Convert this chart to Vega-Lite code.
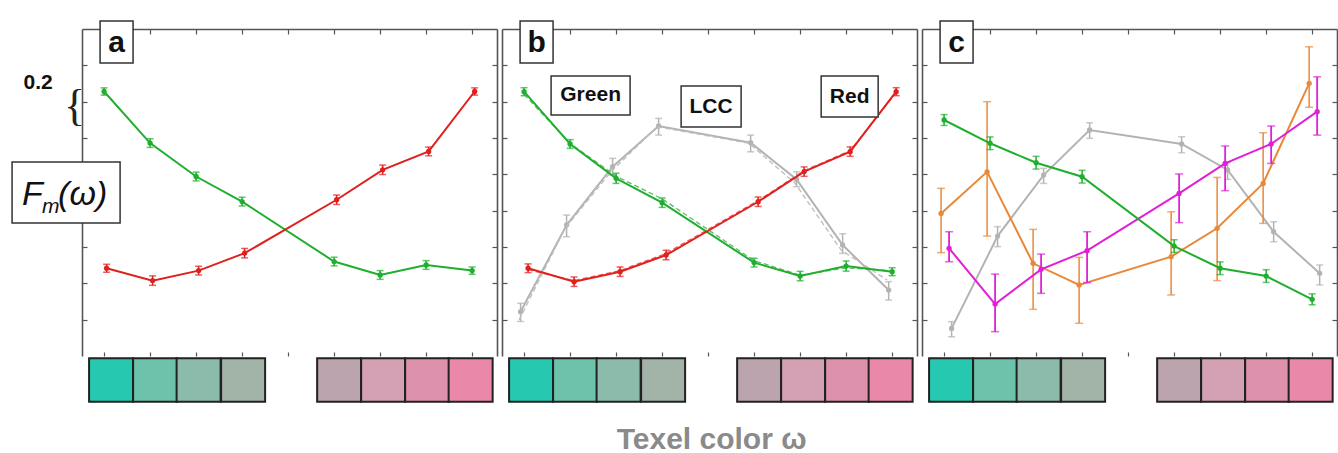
{
"$schema":"https://vega.github.io/schema/vega-lite/v6.json",
"padding":{"left":11,"top":20,"right":0,"bottom":0},
"bounds":"flush",
"spacing":5,
"background":"white",
"config":{"view":{"stroke":null},"font":"Liberation Sans","scale":{"continuousPadding":0}},
"datasets":{
"pts":[
{"p":"a","s":"green","x":0,"v":1.456,"lo":1.436,"hi":1.476},{"p":"a","s":"green","x":1,"v":1.172,"lo":1.148,"hi":1.196},{"p":"a","s":"green","x":2,"v":0.988,"lo":0.964,"hi":1.012},{"p":"a","s":"green","x":3,"v":0.85,"lo":0.826,"hi":0.874},{"p":"a","s":"green","x":5,"v":0.52,"lo":0.496,"hi":0.544},{"p":"a","s":"green","x":6,"v":0.446,"lo":0.422,"hi":0.47},{"p":"a","s":"green","x":7,"v":0.501,"lo":0.477,"hi":0.525},{"p":"a","s":"green","x":8,"v":0.47,"lo":0.45,"hi":0.49},
{"p":"a","s":"red","x":0,"v":0.483,"lo":0.461,"hi":0.505},{"p":"a","s":"red","x":1,"v":0.415,"lo":0.389,"hi":0.441},{"p":"a","s":"red","x":2,"v":0.47,"lo":0.446,"hi":0.494},{"p":"a","s":"red","x":3,"v":0.566,"lo":0.54,"hi":0.592},{"p":"a","s":"red","x":5,"v":0.86,"lo":0.834,"hi":0.886},{"p":"a","s":"red","x":6,"v":1.025,"lo":0.999,"hi":1.051},{"p":"a","s":"red","x":7,"v":1.126,"lo":1.102,"hi":1.15},{"p":"a","s":"red","x":8,"v":1.456,"lo":1.436,"hi":1.476},
{"p":"b","s":"green","x":0,"v":1.455,"lo":1.433,"hi":1.477},{"p":"b","s":"green","x":1,"v":1.167,"lo":1.143,"hi":1.191},{"p":"b","s":"green","x":2,"v":0.978,"lo":0.95,"hi":1.006},{"p":"b","s":"green","x":3,"v":0.844,"lo":0.818,"hi":0.87},{"p":"b","s":"green","x":5,"v":0.514,"lo":0.49,"hi":0.538},{"p":"b","s":"green","x":6,"v":0.44,"lo":0.414,"hi":0.466},{"p":"b","s":"green","x":7,"v":0.495,"lo":0.467,"hi":0.523},{"p":"b","s":"green","x":8,"v":0.464,"lo":0.442,"hi":0.486},
{"p":"b","s":"red","x":0,"v":0.483,"lo":0.459,"hi":0.507},{"p":"b","s":"red","x":1,"v":0.409,"lo":0.383,"hi":0.435},{"p":"b","s":"red","x":2,"v":0.464,"lo":0.438,"hi":0.49},{"p":"b","s":"red","x":3,"v":0.556,"lo":0.53,"hi":0.582},{"p":"b","s":"red","x":5,"v":0.849,"lo":0.823,"hi":0.875},{"p":"b","s":"red","x":6,"v":1.015,"lo":0.989,"hi":1.041},{"p":"b","s":"red","x":7,"v":1.125,"lo":1.099,"hi":1.151},{"p":"b","s":"red","x":8,"v":1.455,"lo":1.433,"hi":1.477},
{"p":"b","s":"gray","x":0,"v":0.244,"lo":0.19,"hi":0.29},{"p":"b","s":"gray","x":1,"v":0.721,"lo":0.657,"hi":0.776},{"p":"b","s":"gray","x":2,"v":1.042,"lo":0.996,"hi":1.088},{"p":"b","s":"gray","x":3,"v":1.266,"lo":1.216,"hi":1.308},{"p":"b","s":"gray","x":5,"v":1.174,"lo":1.124,"hi":1.216},{"p":"b","s":"gray","x":6,"v":0.972,"lo":0.932,"hi":1.014},{"p":"b","s":"gray","x":7,"v":0.611,"lo":0.565,"hi":0.673},{"p":"b","s":"gray","x":8,"v":0.363,"lo":0.308,"hi":0.409},
{"p":"b","s":"grayfit","x":0,"v":0.198},{"p":"b","s":"grayfit","x":1,"v":0.703},{"p":"b","s":"grayfit","x":2,"v":1.015},{"p":"b","s":"grayfit","x":3,"v":1.262},{"p":"b","s":"grayfit","x":5,"v":1.171},{"p":"b","s":"grayfit","x":6,"v":0.95},{"p":"b","s":"grayfit","x":7,"v":0.583},{"p":"b","s":"grayfit","x":8,"v":0.418},
{"p":"b","s":"greenfit","x":0,"v":1.44},{"p":"b","s":"greenfit","x":1,"v":1.17},{"p":"b","s":"greenfit","x":2,"v":0.99},{"p":"b","s":"greenfit","x":3,"v":0.865},{"p":"b","s":"greenfit","x":5,"v":0.525},{"p":"b","s":"greenfit","x":6,"v":0.445},{"p":"b","s":"greenfit","x":7,"v":0.485},{"p":"b","s":"greenfit","x":8,"v":0.47},
{"p":"b","s":"redfit","x":0,"v":0.475},{"p":"b","s":"redfit","x":1,"v":0.415},{"p":"b","s":"redfit","x":2,"v":0.47},{"p":"b","s":"redfit","x":3,"v":0.565},{"p":"b","s":"redfit","x":5,"v":0.855},{"p":"b","s":"redfit","x":6,"v":1.02},{"p":"b","s":"redfit","x":7,"v":1.13},{"p":"b","s":"redfit","x":8,"v":1.45},
{"p":"c","s":"green","x":0,"v":1.299,"lo":1.269,"hi":1.329},{"p":"c","s":"green","x":1,"v":1.171,"lo":1.136,"hi":1.206},{"p":"c","s":"green","x":2,"v":1.064,"lo":1.029,"hi":1.099},{"p":"c","s":"green","x":3,"v":0.987,"lo":0.952,"hi":1.022},{"p":"c","s":"green","x":5,"v":0.605,"lo":0.57,"hi":0.64},{"p":"c","s":"green","x":6,"v":0.483,"lo":0.448,"hi":0.518},{"p":"c","s":"green","x":7,"v":0.44,"lo":0.405,"hi":0.475},{"p":"c","s":"green","x":8,"v":0.312,"lo":0.282,"hi":0.342},
{"p":"c","s":"gray","x":0,"v":0.152,"lo":0.106,"hi":0.189},{"p":"c","s":"gray","x":1,"v":0.66,"lo":0.602,"hi":0.712},{"p":"c","s":"gray","x":2,"v":0.996,"lo":0.95,"hi":1.033},{"p":"c","s":"gray","x":3,"v":1.244,"lo":1.198,"hi":1.284},{"p":"c","s":"gray","x":5,"v":1.167,"lo":1.119,"hi":1.207},{"p":"c","s":"gray","x":6,"v":1.024,"lo":0.972,"hi":1.064},{"p":"c","s":"gray","x":7,"v":0.684,"lo":0.629,"hi":0.739},{"p":"c","s":"gray","x":8,"v":0.455,"lo":0.391,"hi":0.501},
{"p":"c","s":"orange","x":0,"v":0.785,"lo":0.569,"hi":0.923},{"p":"c","s":"orange","x":1,"v":1.014,"lo":0.66,"hi":1.4},{"p":"c","s":"orange","x":2,"v":0.51,"lo":0.257,"hi":0.697},{"p":"c","s":"orange","x":3,"v":0.391,"lo":0.18,"hi":0.543},{"p":"c","s":"orange","x":5,"v":0.547,"lo":0.336,"hi":0.794},{"p":"c","s":"orange","x":6,"v":0.703,"lo":0.415,"hi":0.983},{"p":"c","s":"orange","x":7,"v":0.95,"lo":0.73,"hi":1.229},{"p":"c","s":"orange","x":8,"v":1.501,"lo":1.369,"hi":1.702},
{"p":"c","s":"magenta","x":0,"v":0.593,"lo":0.519,"hi":0.684},{"p":"c","s":"magenta","x":1,"v":0.286,"lo":0.134,"hi":0.451},{"p":"c","s":"magenta","x":2,"v":0.477,"lo":0.345,"hi":0.561},{"p":"c","s":"magenta","x":3,"v":0.58,"lo":0.404,"hi":0.684},{"p":"c","s":"magenta","x":5,"v":0.895,"lo":0.734,"hi":1.002},{"p":"c","s":"magenta","x":6,"v":1.06,"lo":0.91,"hi":1.156},{"p":"c","s":"magenta","x":7,"v":1.167,"lo":1.06,"hi":1.266},{"p":"c","s":"magenta","x":8,"v":1.345,"lo":1.216,"hi":1.537}
],
"sw":[{"sx":0.152,"c":"#27c8b0"},{"sx":1.109,"c":"#6cc2ab"},{"sx":2.054,"c":"#8bbcab"},{"sx":3.022,"c":"#a2b3a8"},{"sx":5.109,"c":"#bca4ae"},{"sx":6.065,"c":"#d4a0b3"},{"sx":7.022,"c":"#dd91ad"},{"sx":7.967,"c":"#e988a9"}],
"notes":[
{"p":"a","k":"letter","t":"a","x":0.272,"y":1.725},{"p":"b","k":"letter","t":"b","x":0.272,"y":1.725},{"p":"c","k":"letter","t":"c","x":0.272,"y":1.725},
{"p":"b","k":"lbl","t":"Green","x":1.446,"y":1.434},{"p":"b","k":"lbl","t":"LCC","x":4.065,"y":1.373},{"p":"b","k":"lbl","t":"Red","x":7.076,"y":1.428},
{"p":"a","k":"F","t":"F","x":-1.783,"y":0.831},{"p":"a","k":"sub","t":"m","x":-1.348,"y":0.787},{"p":"a","k":"par","t":"(ω)","x":-1.0,"y":0.831},
{"p":"a","k":"scale","t":"0.2","x":-1.435,"y":1.502},{"p":"a","k":"brace","t":"{","x":-0.641,"y":1.37},
{"p":"b","k":"xt","t":"Texel color ω","x":4.076,"y":-0.512}
],
"boxes":[
{"p":"a","x0":-0.087,"x1":0.63,"y0":1.613,"y1":1.844},{"p":"b","x0":-0.087,"x1":0.63,"y0":1.613,"y1":1.844},{"p":"c","x0":-0.087,"x1":0.63,"y0":1.613,"y1":1.844},
{"p":"a","x0":-2.0,"x1":0.348,"y0":0.732,"y1":1.068},
{"p":"b","x0":0.587,"x1":2.304,"y0":1.326,"y1":1.541},{"p":"b","x0":3.413,"x1":4.717,"y0":1.26,"y1":1.486},{"p":"b","x0":6.457,"x1":7.696,"y0":1.315,"y1":1.541}
]
},
"hconcat":[
{"width":415,"height":327,"data":{"name":"pts"},
"resolve":{"axis":{"x":"independent","y":"independent"}},
"layer":[
{"data":{"values":[{"x":0,"v":0}]},"mark":{"type":"point","opacity":0},"encoding":{"x":{"field":"x","type":"quantitative","scale":{"domain":[-0.48,8.54],"nice":false,"zero":false,"padding":0},"axis":{"orient":"bottom","values":[0,1,2,3,4,5,6,7,8],"domain":false,"labels":false,"grid":false,"title":null,"tickSize":-4,"tickColor":"#555","tickWidth":1.2}},"y":{"field":"v","type":"quantitative","scale":{"domain":[0,1.8],"nice":false,"zero":false,"padding":0},"axis":{"orient":"left","values":[0.2,0.4,0.6,0.8,1.0,1.2,1.4,1.6],"domain":true,"domainColor":"#555","domainWidth":1.6,"labels":false,"grid":false,"title":null,"tickSize":-5,"tickColor":"#555","tickWidth":1.2}}}},
{"data":{"values":[{"x":0,"v":0}]},"mark":{"type":"point","opacity":0},"encoding":{"x":{"field":"x","type":"quantitative","scale":{"domain":[-0.48,8.54],"nice":false,"zero":false,"padding":0},"axis":{"orient":"top","values":[0,1,2,3,4,5,6,7,8],"domain":true,"domainColor":"#555","domainWidth":1.6,"labels":false,"grid":false,"title":null,"tickSize":-5,"tickColor":"#555","tickWidth":1.2}},"y":{"field":"v","type":"quantitative","scale":{"domain":[0,1.8],"nice":false,"zero":false,"padding":0},"axis":{"orient":"right","values":[0.2,0.4,0.6,0.8,1.0,1.2,1.4,1.6],"domain":true,"domainColor":"#555","domainWidth":1.6,"labels":false,"grid":false,"title":null,"tickSize":-5,"tickColor":"#555","tickWidth":1.2}}}},
{"data":{"name":"sw"},"mark":{"type":"bar","orient":"vertical","size":44,"stroke":"#222","strokeWidth":2},"encoding":{"x":{"field":"sx","type":"quantitative","scale":{"domain":[-0.48,8.54],"nice":false,"zero":false,"padding":0},"axis":null},"y":{"datum":-0.012,"type":"quantitative","scale":{"domain":[0,1.8],"nice":false,"zero":false,"padding":0},"axis":null},"y2":{"datum":-0.252},"fill":{"field":"c","type":"nominal","scale":null}}},
{"transform":[{"filter":"datum.p==='a'&&datum.s==='green'"}],"layer":[
{"mark":{"type":"rule","color":"#1fae2e","strokeWidth":1.5},"encoding":{"x":{"field":"x","type":"quantitative","scale":{"domain":[-0.48,8.54],"nice":false,"zero":false,"padding":0},"axis":null},"y":{"field":"lo","type":"quantitative","scale":{"domain":[0,1.8],"nice":false,"zero":false,"padding":0},"axis":null},"y2":{"field":"hi"}}},
{"mark":{"type":"tick","orient":"horizontal","color":"#1fae2e","size":7,"thickness":1.5},"encoding":{"x":{"field":"x","type":"quantitative","scale":{"domain":[-0.48,8.54],"nice":false,"zero":false,"padding":0},"axis":null},"y":{"field":"lo","type":"quantitative","scale":{"domain":[0,1.8],"nice":false,"zero":false,"padding":0},"axis":null}}},
{"mark":{"type":"tick","orient":"horizontal","color":"#1fae2e","size":7,"thickness":1.5},"encoding":{"x":{"field":"x","type":"quantitative","scale":{"domain":[-0.48,8.54],"nice":false,"zero":false,"padding":0},"axis":null},"y":{"field":"hi","type":"quantitative","scale":{"domain":[0,1.8],"nice":false,"zero":false,"padding":0},"axis":null}}},
{"mark":{"type":"line","color":"#1fae2e","strokeWidth":2},"encoding":{"x":{"field":"x","type":"quantitative","scale":{"domain":[-0.48,8.54],"nice":false,"zero":false,"padding":0},"axis":null},"y":{"field":"v","type":"quantitative","scale":{"domain":[0,1.8],"nice":false,"zero":false,"padding":0},"axis":null}}},
{"mark":{"type":"point","shape":"circle","filled":true,"opacity":1,"color":"#1fae2e","size":28},"encoding":{"x":{"field":"x","type":"quantitative","scale":{"domain":[-0.48,8.54],"nice":false,"zero":false,"padding":0},"axis":null},"y":{"field":"v","type":"quantitative","scale":{"domain":[0,1.8],"nice":false,"zero":false,"padding":0},"axis":null}}}
]},
{"transform":[{"filter":"datum.p==='a'&&datum.s==='red'"}],"layer":[
{"mark":{"type":"rule","color":"#e0201e","strokeWidth":1.5,"xOffset":2.5},"encoding":{"x":{"field":"x","type":"quantitative","scale":{"domain":[-0.48,8.54],"nice":false,"zero":false,"padding":0},"axis":null},"y":{"field":"lo","type":"quantitative","scale":{"domain":[0,1.8],"nice":false,"zero":false,"padding":0},"axis":null},"y2":{"field":"hi"}}},
{"mark":{"type":"tick","orient":"horizontal","color":"#e0201e","size":7,"thickness":1.5,"xOffset":2.5},"encoding":{"x":{"field":"x","type":"quantitative","scale":{"domain":[-0.48,8.54],"nice":false,"zero":false,"padding":0},"axis":null},"y":{"field":"lo","type":"quantitative","scale":{"domain":[0,1.8],"nice":false,"zero":false,"padding":0},"axis":null}}},
{"mark":{"type":"tick","orient":"horizontal","color":"#e0201e","size":7,"thickness":1.5,"xOffset":2.5},"encoding":{"x":{"field":"x","type":"quantitative","scale":{"domain":[-0.48,8.54],"nice":false,"zero":false,"padding":0},"axis":null},"y":{"field":"hi","type":"quantitative","scale":{"domain":[0,1.8],"nice":false,"zero":false,"padding":0},"axis":null}}},
{"mark":{"type":"line","color":"#e0201e","strokeWidth":2,"xOffset":2.5},"encoding":{"x":{"field":"x","type":"quantitative","scale":{"domain":[-0.48,8.54],"nice":false,"zero":false,"padding":0},"axis":null},"y":{"field":"v","type":"quantitative","scale":{"domain":[0,1.8],"nice":false,"zero":false,"padding":0},"axis":null}}},
{"mark":{"type":"point","shape":"circle","filled":true,"opacity":1,"color":"#e0201e","size":28,"xOffset":2.5},"encoding":{"x":{"field":"x","type":"quantitative","scale":{"domain":[-0.48,8.54],"nice":false,"zero":false,"padding":0},"axis":null},"y":{"field":"v","type":"quantitative","scale":{"domain":[0,1.8],"nice":false,"zero":false,"padding":0},"axis":null}}}
]},
{"data":{"name":"boxes"},"transform":[{"filter":"datum.p==='a'"}],"mark":{"type":"rect","fill":"white","stroke":"#333","strokeWidth":1.5},"encoding":{"x":{"field":"x0","type":"quantitative","scale":{"domain":[-0.48,8.54],"nice":false,"zero":false,"padding":0},"axis":null},"x2":{"field":"x1"},"y":{"field":"y0","type":"quantitative","scale":{"domain":[0,1.8],"nice":false,"zero":false,"padding":0},"axis":null},"y2":{"field":"y1"}}},
{"data":{"name":"notes"},"transform":[{"filter":"datum.p==='a'&&datum.k==='letter'"}],"mark":{"type":"text","fontSize":30,"fontWeight":"bold","color":"#111","align":"center","baseline":"middle"},"encoding":{"x":{"field":"x","type":"quantitative","scale":{"domain":[-0.48,8.54],"nice":false,"zero":false,"padding":0},"axis":null},"y":{"field":"y","type":"quantitative","scale":{"domain":[0,1.8],"nice":false,"zero":false,"padding":0},"axis":null},"text":{"field":"t"}}},
{"data":{"name":"notes"},"transform":[{"filter":"datum.k==='F'||datum.k==='par'"}],"mark":{"type":"text","fontSize":34,"fontStyle":"italic","color":"#111","align":"left","baseline":"alphabetic"},"encoding":{"x":{"field":"x","type":"quantitative","scale":{"domain":[-0.48,8.54],"nice":false,"zero":false,"padding":0},"axis":null},"y":{"field":"y","type":"quantitative","scale":{"domain":[0,1.8],"nice":false,"zero":false,"padding":0},"axis":null},"text":{"field":"t"}}},
{"data":{"name":"notes"},"transform":[{"filter":"datum.k==='sub'"}],"mark":{"type":"text","fontSize":21,"fontStyle":"italic","color":"#111","align":"left","baseline":"alphabetic"},"encoding":{"x":{"field":"x","type":"quantitative","scale":{"domain":[-0.48,8.54],"nice":false,"zero":false,"padding":0},"axis":null},"y":{"field":"y","type":"quantitative","scale":{"domain":[0,1.8],"nice":false,"zero":false,"padding":0},"axis":null},"text":{"field":"t"}}},
{"data":{"name":"notes"},"transform":[{"filter":"datum.k==='scale'"}],"mark":{"type":"text","fontSize":21,"fontWeight":"bold","color":"#111","align":"center","baseline":"middle"},"encoding":{"x":{"field":"x","type":"quantitative","scale":{"domain":[-0.48,8.54],"nice":false,"zero":false,"padding":0},"axis":null},"y":{"field":"y","type":"quantitative","scale":{"domain":[0,1.8],"nice":false,"zero":false,"padding":0},"axis":null},"text":{"field":"t"}}},
{"data":{"name":"notes"},"transform":[{"filter":"datum.k==='brace'"}],"mark":{"type":"text","font":"Liberation Serif","fontSize":44,"color":"#222","align":"center","baseline":"middle"},"encoding":{"x":{"field":"x","type":"quantitative","scale":{"domain":[-0.48,8.54],"nice":false,"zero":false,"padding":0},"axis":null},"y":{"field":"y","type":"quantitative","scale":{"domain":[0,1.8],"nice":false,"zero":false,"padding":0},"axis":null},"text":{"field":"t"}}}
]},
{"width":415,"height":327,"data":{"name":"pts"},
"resolve":{"axis":{"x":"independent","y":"independent"}},
"layer":[
{"data":{"values":[{"x":0,"v":0}]},"mark":{"type":"point","opacity":0},"encoding":{"x":{"field":"x","type":"quantitative","scale":{"domain":[-0.48,8.54],"nice":false,"zero":false,"padding":0},"axis":{"orient":"bottom","values":[0,1,2,3,4,5,6,7,8],"domain":false,"labels":false,"grid":false,"title":null,"tickSize":-4,"tickColor":"#555","tickWidth":1.2}},"y":{"field":"v","type":"quantitative","scale":{"domain":[0,1.8],"nice":false,"zero":false,"padding":0},"axis":{"orient":"left","values":[0.2,0.4,0.6,0.8,1.0,1.2,1.4,1.6],"domain":true,"domainColor":"#555","domainWidth":1.6,"labels":false,"grid":false,"title":null,"tickSize":-5,"tickColor":"#555","tickWidth":1.2}}}},
{"data":{"values":[{"x":0,"v":0}]},"mark":{"type":"point","opacity":0},"encoding":{"x":{"field":"x","type":"quantitative","scale":{"domain":[-0.48,8.54],"nice":false,"zero":false,"padding":0},"axis":{"orient":"top","values":[0,1,2,3,4,5,6,7,8],"domain":true,"domainColor":"#555","domainWidth":1.6,"labels":false,"grid":false,"title":null,"tickSize":-5,"tickColor":"#555","tickWidth":1.2}},"y":{"field":"v","type":"quantitative","scale":{"domain":[0,1.8],"nice":false,"zero":false,"padding":0},"axis":{"orient":"right","values":[0.2,0.4,0.6,0.8,1.0,1.2,1.4,1.6],"domain":true,"domainColor":"#555","domainWidth":1.6,"labels":false,"grid":false,"title":null,"tickSize":-5,"tickColor":"#555","tickWidth":1.2}}}},
{"data":{"name":"sw"},"mark":{"type":"bar","orient":"vertical","size":44,"stroke":"#222","strokeWidth":2},"encoding":{"x":{"field":"sx","type":"quantitative","scale":{"domain":[-0.48,8.54],"nice":false,"zero":false,"padding":0},"axis":null},"y":{"datum":-0.012,"type":"quantitative","scale":{"domain":[0,1.8],"nice":false,"zero":false,"padding":0},"axis":null},"y2":{"datum":-0.252},"fill":{"field":"c","type":"nominal","scale":null}}},
{"transform":[{"filter":"datum.p==='b'&&datum.s==='gray'"}],"layer":[
{"mark":{"type":"rule","color":"#b3b3b3","strokeWidth":1.5,"xOffset":-3.5},"encoding":{"x":{"field":"x","type":"quantitative","scale":{"domain":[-0.48,8.54],"nice":false,"zero":false,"padding":0},"axis":null},"y":{"field":"lo","type":"quantitative","scale":{"domain":[0,1.8],"nice":false,"zero":false,"padding":0},"axis":null},"y2":{"field":"hi"}}},
{"mark":{"type":"tick","orient":"horizontal","color":"#b3b3b3","size":7,"thickness":1.5,"xOffset":-3.5},"encoding":{"x":{"field":"x","type":"quantitative","scale":{"domain":[-0.48,8.54],"nice":false,"zero":false,"padding":0},"axis":null},"y":{"field":"lo","type":"quantitative","scale":{"domain":[0,1.8],"nice":false,"zero":false,"padding":0},"axis":null}}},
{"mark":{"type":"tick","orient":"horizontal","color":"#b3b3b3","size":7,"thickness":1.5,"xOffset":-3.5},"encoding":{"x":{"field":"x","type":"quantitative","scale":{"domain":[-0.48,8.54],"nice":false,"zero":false,"padding":0},"axis":null},"y":{"field":"hi","type":"quantitative","scale":{"domain":[0,1.8],"nice":false,"zero":false,"padding":0},"axis":null}}},
{"mark":{"type":"line","color":"#b3b3b3","strokeWidth":2,"xOffset":-3.5},"encoding":{"x":{"field":"x","type":"quantitative","scale":{"domain":[-0.48,8.54],"nice":false,"zero":false,"padding":0},"axis":null},"y":{"field":"v","type":"quantitative","scale":{"domain":[0,1.8],"nice":false,"zero":false,"padding":0},"axis":null}}},
{"mark":{"type":"point","shape":"circle","filled":true,"opacity":1,"color":"#b3b3b3","size":28,"xOffset":-3.5},"encoding":{"x":{"field":"x","type":"quantitative","scale":{"domain":[-0.48,8.54],"nice":false,"zero":false,"padding":0},"axis":null},"y":{"field":"v","type":"quantitative","scale":{"domain":[0,1.8],"nice":false,"zero":false,"padding":0},"axis":null}}}
]},
{"transform":[{"filter":"datum.p==='b'&&datum.s==='grayfit'"}],"mark":{"type":"line","color":"#bdbdbd","strokeWidth":1.3,"strokeDash":[5,3],"xOffset":-5},"encoding":{"x":{"field":"x","type":"quantitative","scale":{"domain":[-0.48,8.54],"nice":false,"zero":false,"padding":0},"axis":null},"y":{"field":"v","type":"quantitative","scale":{"domain":[0,1.8],"nice":false,"zero":false,"padding":0},"axis":null}}},
{"transform":[{"filter":"datum.p==='b'&&datum.s==='greenfit'"}],"mark":{"type":"line","color":"#5cbf62","strokeWidth":1.3,"strokeDash":[5,3]},"encoding":{"x":{"field":"x","type":"quantitative","scale":{"domain":[-0.48,8.54],"nice":false,"zero":false,"padding":0},"axis":null},"y":{"field":"v","type":"quantitative","scale":{"domain":[0,1.8],"nice":false,"zero":false,"padding":0},"axis":null}}},
{"transform":[{"filter":"datum.p==='b'&&datum.s==='redfit'"}],"mark":{"type":"line","color":"#e86060","strokeWidth":1.3,"strokeDash":[5,3],"xOffset":4},"encoding":{"x":{"field":"x","type":"quantitative","scale":{"domain":[-0.48,8.54],"nice":false,"zero":false,"padding":0},"axis":null},"y":{"field":"v","type":"quantitative","scale":{"domain":[0,1.8],"nice":false,"zero":false,"padding":0},"axis":null}}},
{"transform":[{"filter":"datum.p==='b'&&datum.s==='green'"}],"layer":[
{"mark":{"type":"rule","color":"#1fae2e","strokeWidth":1.5},"encoding":{"x":{"field":"x","type":"quantitative","scale":{"domain":[-0.48,8.54],"nice":false,"zero":false,"padding":0},"axis":null},"y":{"field":"lo","type":"quantitative","scale":{"domain":[0,1.8],"nice":false,"zero":false,"padding":0},"axis":null},"y2":{"field":"hi"}}},
{"mark":{"type":"tick","orient":"horizontal","color":"#1fae2e","size":7,"thickness":1.5},"encoding":{"x":{"field":"x","type":"quantitative","scale":{"domain":[-0.48,8.54],"nice":false,"zero":false,"padding":0},"axis":null},"y":{"field":"lo","type":"quantitative","scale":{"domain":[0,1.8],"nice":false,"zero":false,"padding":0},"axis":null}}},
{"mark":{"type":"tick","orient":"horizontal","color":"#1fae2e","size":7,"thickness":1.5},"encoding":{"x":{"field":"x","type":"quantitative","scale":{"domain":[-0.48,8.54],"nice":false,"zero":false,"padding":0},"axis":null},"y":{"field":"hi","type":"quantitative","scale":{"domain":[0,1.8],"nice":false,"zero":false,"padding":0},"axis":null}}},
{"mark":{"type":"line","color":"#1fae2e","strokeWidth":2},"encoding":{"x":{"field":"x","type":"quantitative","scale":{"domain":[-0.48,8.54],"nice":false,"zero":false,"padding":0},"axis":null},"y":{"field":"v","type":"quantitative","scale":{"domain":[0,1.8],"nice":false,"zero":false,"padding":0},"axis":null}}},
{"mark":{"type":"point","shape":"circle","filled":true,"opacity":1,"color":"#1fae2e","size":28},"encoding":{"x":{"field":"x","type":"quantitative","scale":{"domain":[-0.48,8.54],"nice":false,"zero":false,"padding":0},"axis":null},"y":{"field":"v","type":"quantitative","scale":{"domain":[0,1.8],"nice":false,"zero":false,"padding":0},"axis":null}}}
]},
{"transform":[{"filter":"datum.p==='b'&&datum.s==='red'"}],"layer":[
{"mark":{"type":"rule","color":"#e0201e","strokeWidth":1.5,"xOffset":4},"encoding":{"x":{"field":"x","type":"quantitative","scale":{"domain":[-0.48,8.54],"nice":false,"zero":false,"padding":0},"axis":null},"y":{"field":"lo","type":"quantitative","scale":{"domain":[0,1.8],"nice":false,"zero":false,"padding":0},"axis":null},"y2":{"field":"hi"}}},
{"mark":{"type":"tick","orient":"horizontal","color":"#e0201e","size":7,"thickness":1.5,"xOffset":4},"encoding":{"x":{"field":"x","type":"quantitative","scale":{"domain":[-0.48,8.54],"nice":false,"zero":false,"padding":0},"axis":null},"y":{"field":"lo","type":"quantitative","scale":{"domain":[0,1.8],"nice":false,"zero":false,"padding":0},"axis":null}}},
{"mark":{"type":"tick","orient":"horizontal","color":"#e0201e","size":7,"thickness":1.5,"xOffset":4},"encoding":{"x":{"field":"x","type":"quantitative","scale":{"domain":[-0.48,8.54],"nice":false,"zero":false,"padding":0},"axis":null},"y":{"field":"hi","type":"quantitative","scale":{"domain":[0,1.8],"nice":false,"zero":false,"padding":0},"axis":null}}},
{"mark":{"type":"line","color":"#e0201e","strokeWidth":2,"xOffset":4},"encoding":{"x":{"field":"x","type":"quantitative","scale":{"domain":[-0.48,8.54],"nice":false,"zero":false,"padding":0},"axis":null},"y":{"field":"v","type":"quantitative","scale":{"domain":[0,1.8],"nice":false,"zero":false,"padding":0},"axis":null}}},
{"mark":{"type":"point","shape":"circle","filled":true,"opacity":1,"color":"#e0201e","size":28,"xOffset":4},"encoding":{"x":{"field":"x","type":"quantitative","scale":{"domain":[-0.48,8.54],"nice":false,"zero":false,"padding":0},"axis":null},"y":{"field":"v","type":"quantitative","scale":{"domain":[0,1.8],"nice":false,"zero":false,"padding":0},"axis":null}}}
]},
{"data":{"name":"boxes"},"transform":[{"filter":"datum.p==='b'"}],"mark":{"type":"rect","fill":"white","stroke":"#333","strokeWidth":1.5},"encoding":{"x":{"field":"x0","type":"quantitative","scale":{"domain":[-0.48,8.54],"nice":false,"zero":false,"padding":0},"axis":null},"x2":{"field":"x1"},"y":{"field":"y0","type":"quantitative","scale":{"domain":[0,1.8],"nice":false,"zero":false,"padding":0},"axis":null},"y2":{"field":"y1"}}},
{"data":{"name":"notes"},"transform":[{"filter":"datum.p==='b'&&datum.k==='letter'"}],"mark":{"type":"text","fontSize":30,"fontWeight":"bold","color":"#111","align":"center","baseline":"middle"},"encoding":{"x":{"field":"x","type":"quantitative","scale":{"domain":[-0.48,8.54],"nice":false,"zero":false,"padding":0},"axis":null},"y":{"field":"y","type":"quantitative","scale":{"domain":[0,1.8],"nice":false,"zero":false,"padding":0},"axis":null},"text":{"field":"t"}}},
{"data":{"name":"notes"},"transform":[{"filter":"datum.k==='lbl'"}],"mark":{"type":"text","fontSize":21,"fontWeight":"bold","color":"#111","align":"center","baseline":"middle"},"encoding":{"x":{"field":"x","type":"quantitative","scale":{"domain":[-0.48,8.54],"nice":false,"zero":false,"padding":0},"axis":null},"y":{"field":"y","type":"quantitative","scale":{"domain":[0,1.8],"nice":false,"zero":false,"padding":0},"axis":null},"text":{"field":"t"}}},
{"data":{"name":"notes"},"transform":[{"filter":"datum.k==='xt'"}],"mark":{"type":"text","fontSize":30,"fontWeight":"bold","color":"#8a8a8a","align":"center","baseline":"alphabetic"},"encoding":{"x":{"field":"x","type":"quantitative","scale":{"domain":[-0.48,8.54],"nice":false,"zero":false,"padding":0},"axis":null},"y":{"field":"y","type":"quantitative","scale":{"domain":[0,1.8],"nice":false,"zero":false,"padding":0},"axis":null},"text":{"field":"t"}}}
]},
{"width":415,"height":327,"data":{"name":"pts"},
"resolve":{"axis":{"x":"independent","y":"independent"}},
"layer":[
{"data":{"values":[{"x":0,"v":0}]},"mark":{"type":"point","opacity":0},"encoding":{"x":{"field":"x","type":"quantitative","scale":{"domain":[-0.48,8.54],"nice":false,"zero":false,"padding":0},"axis":{"orient":"bottom","values":[0,1,2,3,4,5,6,7,8],"domain":false,"labels":false,"grid":false,"title":null,"tickSize":-4,"tickColor":"#555","tickWidth":1.2}},"y":{"field":"v","type":"quantitative","scale":{"domain":[0,1.8],"nice":false,"zero":false,"padding":0},"axis":{"orient":"left","values":[0.2,0.4,0.6,0.8,1.0,1.2,1.4,1.6],"domain":true,"domainColor":"#555","domainWidth":1.6,"labels":false,"grid":false,"title":null,"tickSize":-5,"tickColor":"#555","tickWidth":1.2}}}},
{"data":{"values":[{"x":0,"v":0}]},"mark":{"type":"point","opacity":0},"encoding":{"x":{"field":"x","type":"quantitative","scale":{"domain":[-0.48,8.54],"nice":false,"zero":false,"padding":0},"axis":{"orient":"top","values":[0,1,2,3,4,5,6,7,8],"domain":true,"domainColor":"#555","domainWidth":1.6,"labels":false,"grid":false,"title":null,"tickSize":-5,"tickColor":"#555","tickWidth":1.2}},"y":{"field":"v","type":"quantitative","scale":{"domain":[0,1.8],"nice":false,"zero":false,"padding":0},"axis":{"orient":"right","values":[0.2,0.4,0.6,0.8,1.0,1.2,1.4,1.6],"domain":true,"domainColor":"#555","domainWidth":1.6,"labels":false,"grid":false,"title":null,"tickSize":-5,"tickColor":"#555","tickWidth":1.2}}}},
{"data":{"name":"sw"},"mark":{"type":"bar","orient":"vertical","size":44,"stroke":"#222","strokeWidth":2},"encoding":{"x":{"field":"sx","type":"quantitative","scale":{"domain":[-0.48,8.54],"nice":false,"zero":false,"padding":0},"axis":null},"y":{"datum":-0.012,"type":"quantitative","scale":{"domain":[0,1.8],"nice":false,"zero":false,"padding":0},"axis":null},"y2":{"datum":-0.252},"fill":{"field":"c","type":"nominal","scale":null}}},
{"transform":[{"filter":"datum.p==='c'&&datum.s==='gray'"}],"layer":[
{"mark":{"type":"rule","color":"#b3b3b3","strokeWidth":1.5,"xOffset":7.5},"encoding":{"x":{"field":"x","type":"quantitative","scale":{"domain":[-0.48,8.54],"nice":false,"zero":false,"padding":0},"axis":null},"y":{"field":"lo","type":"quantitative","scale":{"domain":[0,1.8],"nice":false,"zero":false,"padding":0},"axis":null},"y2":{"field":"hi"}}},
{"mark":{"type":"tick","orient":"horizontal","color":"#b3b3b3","size":7,"thickness":1.5,"xOffset":7.5},"encoding":{"x":{"field":"x","type":"quantitative","scale":{"domain":[-0.48,8.54],"nice":false,"zero":false,"padding":0},"axis":null},"y":{"field":"lo","type":"quantitative","scale":{"domain":[0,1.8],"nice":false,"zero":false,"padding":0},"axis":null}}},
{"mark":{"type":"tick","orient":"horizontal","color":"#b3b3b3","size":7,"thickness":1.5,"xOffset":7.5},"encoding":{"x":{"field":"x","type":"quantitative","scale":{"domain":[-0.48,8.54],"nice":false,"zero":false,"padding":0},"axis":null},"y":{"field":"hi","type":"quantitative","scale":{"domain":[0,1.8],"nice":false,"zero":false,"padding":0},"axis":null}}},
{"mark":{"type":"line","color":"#b3b3b3","strokeWidth":2,"xOffset":7.5},"encoding":{"x":{"field":"x","type":"quantitative","scale":{"domain":[-0.48,8.54],"nice":false,"zero":false,"padding":0},"axis":null},"y":{"field":"v","type":"quantitative","scale":{"domain":[0,1.8],"nice":false,"zero":false,"padding":0},"axis":null}}},
{"mark":{"type":"point","shape":"circle","filled":true,"opacity":1,"color":"#b3b3b3","size":28,"xOffset":7.5},"encoding":{"x":{"field":"x","type":"quantitative","scale":{"domain":[-0.48,8.54],"nice":false,"zero":false,"padding":0},"axis":null},"y":{"field":"v","type":"quantitative","scale":{"domain":[0,1.8],"nice":false,"zero":false,"padding":0},"axis":null}}}
]},
{"transform":[{"filter":"datum.p==='c'&&datum.s==='orange'"}],"layer":[
{"mark":{"type":"rule","color":"#e8893a","strokeWidth":1.5,"xOffset":-3},"encoding":{"x":{"field":"x","type":"quantitative","scale":{"domain":[-0.48,8.54],"nice":false,"zero":false,"padding":0},"axis":null},"y":{"field":"lo","type":"quantitative","scale":{"domain":[0,1.8],"nice":false,"zero":false,"padding":0},"axis":null},"y2":{"field":"hi"}}},
{"mark":{"type":"tick","orient":"horizontal","color":"#e8893a","size":8,"thickness":1.5,"xOffset":-3},"encoding":{"x":{"field":"x","type":"quantitative","scale":{"domain":[-0.48,8.54],"nice":false,"zero":false,"padding":0},"axis":null},"y":{"field":"lo","type":"quantitative","scale":{"domain":[0,1.8],"nice":false,"zero":false,"padding":0},"axis":null}}},
{"mark":{"type":"tick","orient":"horizontal","color":"#e8893a","size":8,"thickness":1.5,"xOffset":-3},"encoding":{"x":{"field":"x","type":"quantitative","scale":{"domain":[-0.48,8.54],"nice":false,"zero":false,"padding":0},"axis":null},"y":{"field":"hi","type":"quantitative","scale":{"domain":[0,1.8],"nice":false,"zero":false,"padding":0},"axis":null}}},
{"mark":{"type":"line","color":"#e8893a","strokeWidth":2,"xOffset":-3},"encoding":{"x":{"field":"x","type":"quantitative","scale":{"domain":[-0.48,8.54],"nice":false,"zero":false,"padding":0},"axis":null},"y":{"field":"v","type":"quantitative","scale":{"domain":[0,1.8],"nice":false,"zero":false,"padding":0},"axis":null}}},
{"mark":{"type":"point","shape":"circle","filled":true,"opacity":1,"color":"#e8893a","size":28,"xOffset":-3},"encoding":{"x":{"field":"x","type":"quantitative","scale":{"domain":[-0.48,8.54],"nice":false,"zero":false,"padding":0},"axis":null},"y":{"field":"v","type":"quantitative","scale":{"domain":[0,1.8],"nice":false,"zero":false,"padding":0},"axis":null}}}
]},
{"transform":[{"filter":"datum.p==='c'&&datum.s==='magenta'"}],"layer":[
{"mark":{"type":"rule","color":"#e01fd6","strokeWidth":1.8,"xOffset":5},"encoding":{"x":{"field":"x","type":"quantitative","scale":{"domain":[-0.48,8.54],"nice":false,"zero":false,"padding":0},"axis":null},"y":{"field":"lo","type":"quantitative","scale":{"domain":[0,1.8],"nice":false,"zero":false,"padding":0},"axis":null},"y2":{"field":"hi"}}},
{"mark":{"type":"tick","orient":"horizontal","color":"#e01fd6","size":8,"thickness":1.5,"xOffset":5},"encoding":{"x":{"field":"x","type":"quantitative","scale":{"domain":[-0.48,8.54],"nice":false,"zero":false,"padding":0},"axis":null},"y":{"field":"lo","type":"quantitative","scale":{"domain":[0,1.8],"nice":false,"zero":false,"padding":0},"axis":null}}},
{"mark":{"type":"tick","orient":"horizontal","color":"#e01fd6","size":8,"thickness":1.5,"xOffset":5},"encoding":{"x":{"field":"x","type":"quantitative","scale":{"domain":[-0.48,8.54],"nice":false,"zero":false,"padding":0},"axis":null},"y":{"field":"hi","type":"quantitative","scale":{"domain":[0,1.8],"nice":false,"zero":false,"padding":0},"axis":null}}},
{"mark":{"type":"line","color":"#e01fd6","strokeWidth":2,"xOffset":5},"encoding":{"x":{"field":"x","type":"quantitative","scale":{"domain":[-0.48,8.54],"nice":false,"zero":false,"padding":0},"axis":null},"y":{"field":"v","type":"quantitative","scale":{"domain":[0,1.8],"nice":false,"zero":false,"padding":0},"axis":null}}},
{"mark":{"type":"point","shape":"circle","filled":true,"opacity":1,"color":"#e01fd6","size":28,"xOffset":5},"encoding":{"x":{"field":"x","type":"quantitative","scale":{"domain":[-0.48,8.54],"nice":false,"zero":false,"padding":0},"axis":null},"y":{"field":"v","type":"quantitative","scale":{"domain":[0,1.8],"nice":false,"zero":false,"padding":0},"axis":null}}}
]},
{"transform":[{"filter":"datum.p==='c'&&datum.s==='green'"}],"layer":[
{"mark":{"type":"rule","color":"#1fae2e","strokeWidth":1.5},"encoding":{"x":{"field":"x","type":"quantitative","scale":{"domain":[-0.48,8.54],"nice":false,"zero":false,"padding":0},"axis":null},"y":{"field":"lo","type":"quantitative","scale":{"domain":[0,1.8],"nice":false,"zero":false,"padding":0},"axis":null},"y2":{"field":"hi"}}},
{"mark":{"type":"tick","orient":"horizontal","color":"#1fae2e","size":7,"thickness":1.5},"encoding":{"x":{"field":"x","type":"quantitative","scale":{"domain":[-0.48,8.54],"nice":false,"zero":false,"padding":0},"axis":null},"y":{"field":"lo","type":"quantitative","scale":{"domain":[0,1.8],"nice":false,"zero":false,"padding":0},"axis":null}}},
{"mark":{"type":"tick","orient":"horizontal","color":"#1fae2e","size":7,"thickness":1.5},"encoding":{"x":{"field":"x","type":"quantitative","scale":{"domain":[-0.48,8.54],"nice":false,"zero":false,"padding":0},"axis":null},"y":{"field":"hi","type":"quantitative","scale":{"domain":[0,1.8],"nice":false,"zero":false,"padding":0},"axis":null}}},
{"mark":{"type":"line","color":"#1fae2e","strokeWidth":2},"encoding":{"x":{"field":"x","type":"quantitative","scale":{"domain":[-0.48,8.54],"nice":false,"zero":false,"padding":0},"axis":null},"y":{"field":"v","type":"quantitative","scale":{"domain":[0,1.8],"nice":false,"zero":false,"padding":0},"axis":null}}},
{"mark":{"type":"point","shape":"circle","filled":true,"opacity":1,"color":"#1fae2e","size":28},"encoding":{"x":{"field":"x","type":"quantitative","scale":{"domain":[-0.48,8.54],"nice":false,"zero":false,"padding":0},"axis":null},"y":{"field":"v","type":"quantitative","scale":{"domain":[0,1.8],"nice":false,"zero":false,"padding":0},"axis":null}}}
]},
{"data":{"name":"boxes"},"transform":[{"filter":"datum.p==='c'"}],"mark":{"type":"rect","fill":"white","stroke":"#333","strokeWidth":1.5},"encoding":{"x":{"field":"x0","type":"quantitative","scale":{"domain":[-0.48,8.54],"nice":false,"zero":false,"padding":0},"axis":null},"x2":{"field":"x1"},"y":{"field":"y0","type":"quantitative","scale":{"domain":[0,1.8],"nice":false,"zero":false,"padding":0},"axis":null},"y2":{"field":"y1"}}},
{"data":{"name":"notes"},"transform":[{"filter":"datum.p==='c'&&datum.k==='letter'"}],"mark":{"type":"text","fontSize":30,"fontWeight":"bold","color":"#111","align":"center","baseline":"middle"},"encoding":{"x":{"field":"x","type":"quantitative","scale":{"domain":[-0.48,8.54],"nice":false,"zero":false,"padding":0},"axis":null},"y":{"field":"y","type":"quantitative","scale":{"domain":[0,1.8],"nice":false,"zero":false,"padding":0},"axis":null},"text":{"field":"t"}}}
]}
]
}
